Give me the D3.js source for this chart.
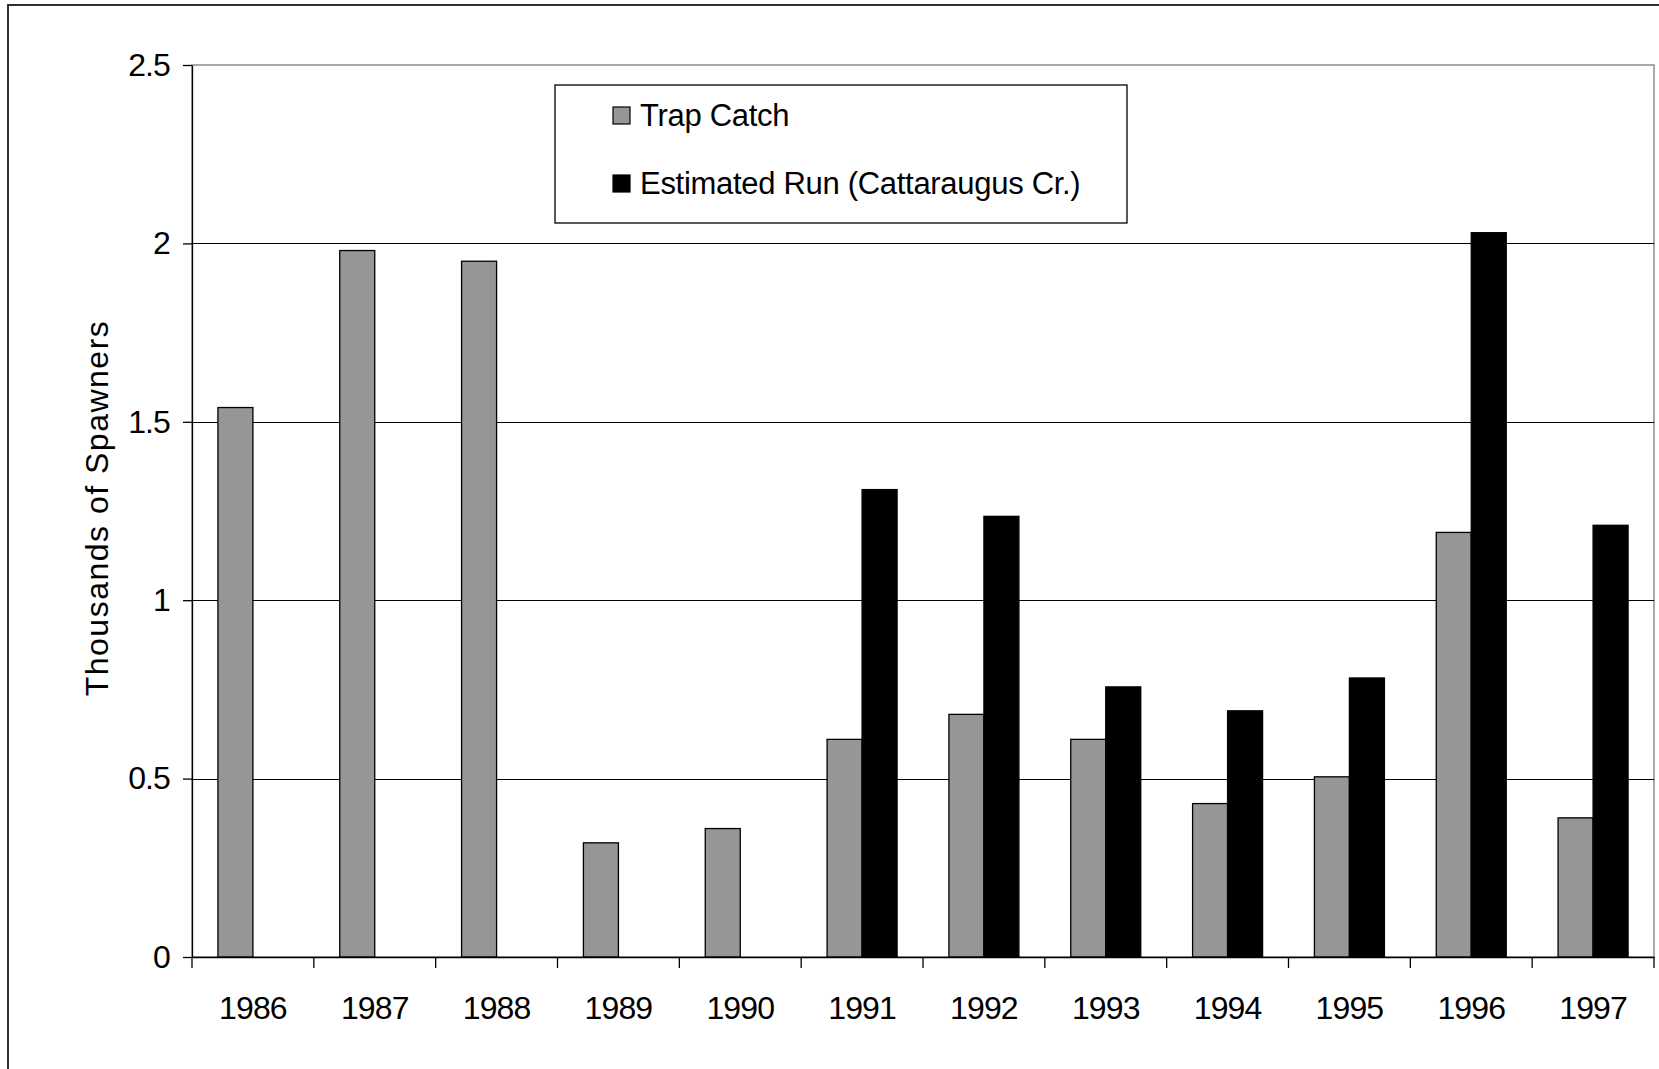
<!DOCTYPE html>
<html>
<head>
<meta charset="utf-8">
<script src="https://cdn.jsdelivr.net/npm/d3@7"></script>
<style>
  html, body { margin: 0; padding: 0; background: #fff; overflow: hidden; }
  svg { display: block; }
  text { font-family: "Liberation Sans", Arial, Helvetica, sans-serif; fill: #000; }
</style>
</head>
<body>
<svg id="chart" width="1659" height="1069"></svg>
<script>
// ---- data ----
const years = ["1986","1987","1988","1989","1990","1991","1992","1993","1994","1995","1996","1997"];
const trapCatch = [1.54, 1.98, 1.95, 0.32, 0.36, 0.61, 0.68, 0.61, 0.43, 0.505, 1.19, 0.39];
const estimatedRun = [null, null, null, null, null, 1.31, 1.235, 0.757, 0.69, 0.782, 2.03, 1.21];
const seriesNames = ["Trap Catch", "Estimated Run (Cattaraugus Cr.)"];
const yTicks = [0, 0.5, 1, 1.5, 2, 2.5];
const yTitle = "Thousands of Spawners";

// ---- layout ----
const W = 1659, H = 1069;
const plot = { left: 192, right: 1654, top: 65, bottom: 957 };
const colors = ["#969696", "#000000"];

const svg = d3.select("#chart");

// outer chart border (extends past right/bottom edge)
svg.append("rect")
  .attr("x", 8).attr("y", 5)
  .attr("width", W + 20).attr("height", H + 20)
  .attr("fill", "#fff").attr("stroke", "#1a1a1a").attr("stroke-width", 1.8);

const x0 = d3.scaleBand().domain(years).range([plot.left, plot.right]).padding(0);
const x1 = d3.scaleBand().domain(seriesNames).range([0, x0.bandwidth()])
  .paddingInner(0).paddingOuter(0.7405);
const y = d3.scaleLinear().domain([0, 2.5]).range([plot.bottom, plot.top]);

// plot area border (gray)
svg.append("rect")
  .attr("x", plot.left).attr("y", plot.top)
  .attr("width", plot.right - plot.left).attr("height", plot.bottom - plot.top)
  .attr("fill", "none").attr("stroke", "#8c8c8c").attr("stroke-width", 1.5);

// gridlines
svg.append("g").selectAll("line")
  .data(yTicks.filter(t => t > 0 && t < 2.5))
  .join("line")
  .attr("x1", plot.left).attr("x2", plot.right)
  .attr("y1", d => Math.round(y(d)) + 0.5).attr("y2", d => Math.round(y(d)) + 0.5)
  .attr("stroke", "#000").attr("stroke-width", 1.2);

// bars
const data = years.map((yr, i) => ({ year: yr, values: [trapCatch[i], estimatedRun[i]] }));
const groups = svg.append("g").selectAll("g")
  .data(data).join("g")
  .attr("transform", d => `translate(${x0(d.year)},0)`);

groups.selectAll("rect")
  .data(d => d.values.map((v, j) => ({ name: seriesNames[j], value: v, j })).filter(e => e.value != null))
  .join("rect")
  .attr("x", d => x1(d.name))
  .attr("width", x1.bandwidth())
  .attr("y", d => y(d.value))
  .attr("height", d => y(0) - y(d.value))
  .attr("fill", d => colors[d.j])
  .attr("stroke", "#000").attr("stroke-width", 1.3);

// y axis
const yAxis = d3.axisLeft(y).tickValues(yTicks)
  .tickFormat(d => String(d))
  .tickSize(9).tickSizeOuter(0).tickPadding(13);
const gy = svg.append("g").attr("transform", `translate(${plot.left},0)`).call(yAxis);
gy.select(".domain").attr("stroke", "#000").attr("stroke-width", 1.3);
gy.selectAll(".tick line").attr("stroke", "#000").attr("stroke-width", 1.3);
gy.selectAll("text").attr("font-size", 32).attr("letter-spacing", "-0.9px")
  .style("font-family", '"Liberation Sans", Arial, sans-serif');

// x axis
const xAxis = d3.axisBottom(x0).tickSize(0).tickSizeOuter(0).tickPadding(39);
const gx = svg.append("g").attr("transform", `translate(0,${plot.bottom})`).call(xAxis);
gx.select(".domain").attr("stroke", "#000").attr("stroke-width", 1.5);
gx.selectAll("text").attr("font-size", 32).attr("letter-spacing", "-0.9px")
  .style("font-family", '"Liberation Sans", Arial, sans-serif');

// x axis boundary ticks
const boundaries = years.map(d => x0(d)).concat([x0.range()[1]]);
gx.append("g").selectAll("line")
  .data(boundaries).join("line")
  .attr("x1", d => d).attr("x2", d => d)
  .attr("y1", 0).attr("y2", 11)
  .attr("stroke", "#000").attr("stroke-width", 1.3);

// y title
svg.append("text")
  .attr("transform", `translate(108,${(plot.top + plot.bottom) / 2 - 3}) rotate(-90)`)
  .attr("text-anchor", "middle")
  .attr("font-size", 32)
  .attr("letter-spacing", "1.5px")
  .text(yTitle);

// legend
const legend = svg.append("g").attr("transform", "translate(555,85)");
legend.append("rect")
  .attr("width", 572).attr("height", 138)
  .attr("fill", "#fff").attr("stroke", "#000").attr("stroke-width", 1.3);
const items = legend.selectAll("g.item")
  .data(seriesNames).join("g")
  .attr("class", "item")
  .attr("transform", (d, i) => `translate(0,${30 + i * 68})`);
items.append("rect")
  .attr("x", 58).attr("y", -8).attr("width", 17).attr("height", 17)
  .attr("fill", (d, i) => colors[i]).attr("stroke", "#000").attr("stroke-width", 1.2);
items.append("text")
  .attr("x", 85).attr("y", 11)
  .attr("font-size", 31).attr("letter-spacing", "-0.3px")
  .text(d => d);
</script>
</body>
</html>
